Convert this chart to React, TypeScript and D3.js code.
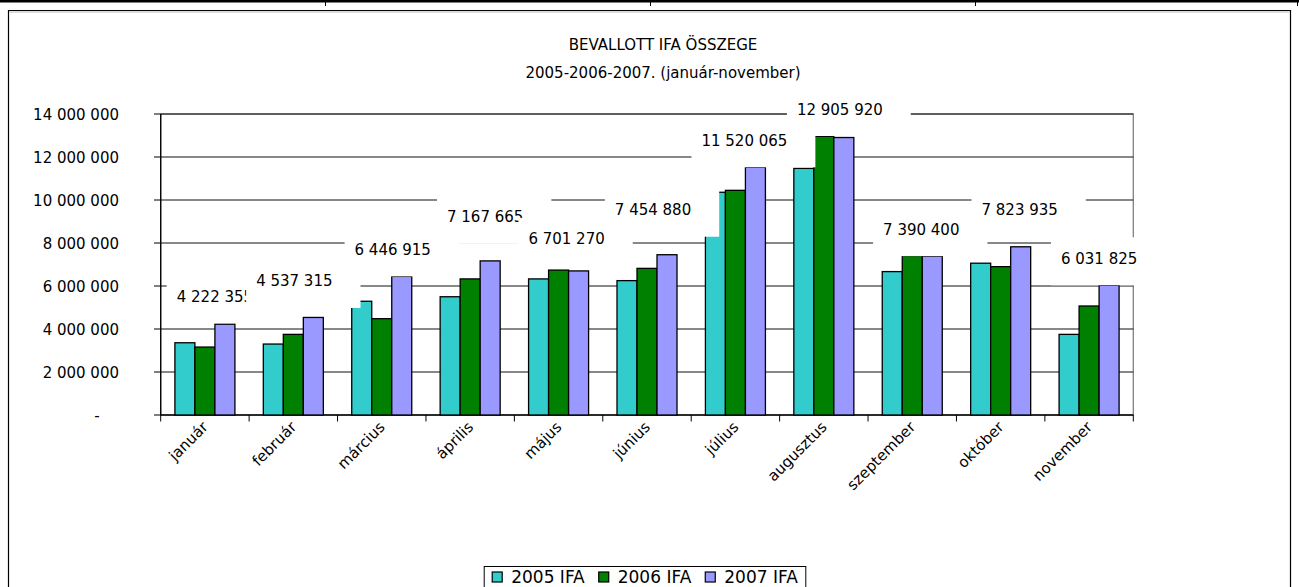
import React, { useEffect, useRef } from 'react';
import * as d3 from 'd3';

const months = ['január', 'február', 'március', 'április', 'május', 'június', 'július', 'augusztus', 'szeptember', 'október', 'november'];
const seriesNames = ['2005 IFA', '2006 IFA', '2007 IFA'];
const ifa2005 = [3360000, 3300000, 5290000, 5500000, 6330000, 6250000, 10360000, 11470000, 6670000, 7060000, 3750000];
const ifa2006 = [3160000, 3750000, 4480000, 6330000, 6740000, 6820000, 10450000, 12960000, 7410000, 6900000, 5070000];
const ifa2007 = [4222355, 4537315, 6446915, 7167665, 6701270, 7454880, 11520065, 12905920, 7390400, 7823935, 6031825];
const yTicks = [0, 2000000, 4000000, 6000000, 8000000, 10000000, 12000000, 14000000];
const titleLines = ['BEVALLOTT IFA ÖSSZEGE', '2005-2006-2007. (január-november)'];
const colors = ['#33CCCC', '#008000', '#9999FF'];

const FONT = "'DejaVu Sans', sans-serif";

export default function App() {
  const ref = useRef<SVGSVGElement>(null);

  useEffect(() => {
    const svg = d3.select(ref.current);
    svg.selectAll('*').remove();
    const W = 1299, H = 587;
    const values = [ifa2005, ifa2006, ifa2007];
    const locale = d3.formatLocale({ thousands: ' ', grouping: [3], decimal: ',', currency: ['', ''] });
    const fmt = locale.format(',d');
    // manual nudges of the data-label boxes (as dragged in the original chart)
    const labelLift = [1, 9.5, 0, 17, 5, 18, 0, 1.5, 0, 10, 0];
    const labelShift = [-1, -10, 0, 4, -3, -5, -2, 5, -2, 8, -1];

    // top table rule
    svg.append('rect').attr('x', 0).attr('y', 0).attr('width', W).attr('height', 2.5).attr('fill', '#000');
    [325, 650, 975, 1297].forEach((sx) => {
      svg.append('line').attr('x1', sx + 0.5).attr('x2', sx + 0.5).attr('y1', 0).attr('y2', 6).attr('stroke', '#000');
    });

    // chart frame
    svg.append('path')
      .attr('d', `M8.5,${H + 5} V10.5 H1290.5 V${H + 5}`)
      .attr('fill', 'none').attr('stroke', '#000').attr('stroke-width', 1.2);
    svg.append('line').attr('x1', 9).attr('x2', 1290).attr('y1', 12).attr('y2', 12).attr('stroke', '#bbb');

    const x0 = 160.7, x1 = 1133.3, yTop = 114, yBot = 415;
    const x = d3.scaleBand<string>().domain(months).range([x0, x1]);
    const xi = d3.scaleBand<string>().domain(seriesNames).range([0, x.bandwidth()]).paddingOuter(0.71);
    const y = d3.scaleLinear().domain([0, 14000000]).range([yBot, yTop]);

    // title
    const title = svg.append('text').attr('text-anchor', 'middle').attr('font-family', FONT).attr('font-size', 15).attr('fill', '#000');
    titleLines.forEach((t, i) => {
      title.append('tspan').attr('x', 663).attr('y', 50 + i * 28).text(t);
    });

    // plot border
    svg.append('rect').attr('x', x0).attr('y', yTop).attr('width', x1 - x0).attr('height', yBot - yTop)
      .attr('fill', 'none').attr('stroke', '#808080').attr('stroke-width', 1.3);

    // gridlines + y axis labels
    yTicks.forEach((t) => {
      if (t > 0) {
        svg.append('line').attr('x1', x0).attr('x2', x1).attr('y1', y(t)).attr('y2', y(t))
          .attr('stroke', '#111').attr('stroke-width', 1);
      }
      svg.append('line').attr('x1', x0 - 6.7).attr('x2', x0).attr('y1', y(t)).attr('y2', y(t)).attr('stroke', '#000');
      svg.append('text')
        .attr('x', t === 0 ? 97 : 119).attr('y', y(t) + 5.5)
        .attr('text-anchor', t === 0 ? 'middle' : 'end')
        .attr('font-family', FONT).attr('font-size', 15).attr('fill', '#000')
        .text(t === 0 ? '-' : fmt(t));
    });

    // axes
    svg.append('line').attr('x1', x0).attr('x2', x0).attr('y1', yTop).attr('y2', yBot).attr('stroke', '#000').attr('stroke-width', 1.3);
    svg.append('line').attr('x1', x0).attr('x2', x1).attr('y1', yBot).attr('y2', yBot).attr('stroke', '#000').attr('stroke-width', 1.3);
    [...months.map((m) => x(m) as number), x1].forEach((tx) => {
      svg.append('line').attr('x1', tx).attr('x2', tx).attr('y1', yBot).attr('y2', yBot + 6.5).attr('stroke', '#000');
    });

    // x labels
    months.forEach((m) => {
      const cx = (x(m) as number) + x.bandwidth() / 2 + 4;
      svg.append('text')
        .attr('transform', `translate(${cx},428) rotate(-45)`)
        .attr('text-anchor', 'end')
        .attr('font-family', FONT).attr('font-size', 15).attr('fill', '#000')
        .text(m);
    });

    // bars
    seriesNames.forEach((s, si) => {
      svg.append('g').selectAll('rect').data(values[si]).join('rect')
        .attr('x', (_d, j) => (x(months[j]) as number) + (xi(s) as number))
        .attr('y', (d) => y(d))
        .attr('width', xi.bandwidth())
        .attr('height', (d) => yBot - y(d))
        .attr('fill', colors[si])
        .attr('stroke', '#000').attr('stroke-width', 1.3);
    });

    // data labels for 2007
    ifa2007.forEach((v, j) => {
      const cx = (x(months[j]) as number) + (xi('2007 IFA') as number) + xi.bandwidth() / 2 + labelShift[j];
      const top = y(v) - labelLift[j];
      const g = svg.append('g');
      const r = g.append('rect').attr('fill', '#fff');
      const tx = g.append('text').attr('font-family', FONT).attr('font-size', 15).attr('fill', '#000').text(fmt(v));
      const w = (tx.node() as SVGTextElement).getComputedTextLength();
      const bw = w + 38;
      const bx = cx - bw / 2;
      r.attr('x', bx).attr('y', top - 48).attr('width', bw).attr('height', 48);
      tx.attr('x', bx + 10).attr('y', top - 21.5);
    });

    // legend
    const lg = svg.append('g');
    const lrect = lg.append('rect').attr('fill', '#fff').attr('stroke', '#000').attr('stroke-width', 1);
    let cur = 0;
    const items: { sx: number; t: any }[] = [];
    seriesNames.forEach((s, si) => {
      lg.append('rect').attr('class', 'sw').attr('width', 10).attr('height', 10)
        .attr('fill', colors[si]).attr('stroke', '#000').attr('stroke-width', 1.2);
      const t = lg.append('text').attr('font-family', FONT).attr('font-size', 17).attr('fill', '#000').text(s);
      const w = (t.node() as SVGTextElement).getComputedTextLength();
      items.push({ sx: cur, t });
      cur += 19 + w + 14;
    });
    const totalW = cur - 14;
    const lx = 645 - totalW / 2;
    const sws = lg.selectAll('rect.sw').nodes();
    items.forEach((it, i) => {
      d3.select(sws[i] as any).attr('x', lx + it.sx).attr('y', 572);
      it.t.attr('x', lx + it.sx + 19).attr('y', 583);
    });
    lrect.attr('x', lx - 8).attr('y', 566.5).attr('width', totalW + 16).attr('height', 30);
  }, []);

  return (
    <svg ref={ref} width={1299} height={587}
      style={{ position: 'absolute', left: 0, top: 0, background: '#fff', display: 'block' }} />
  );
}
